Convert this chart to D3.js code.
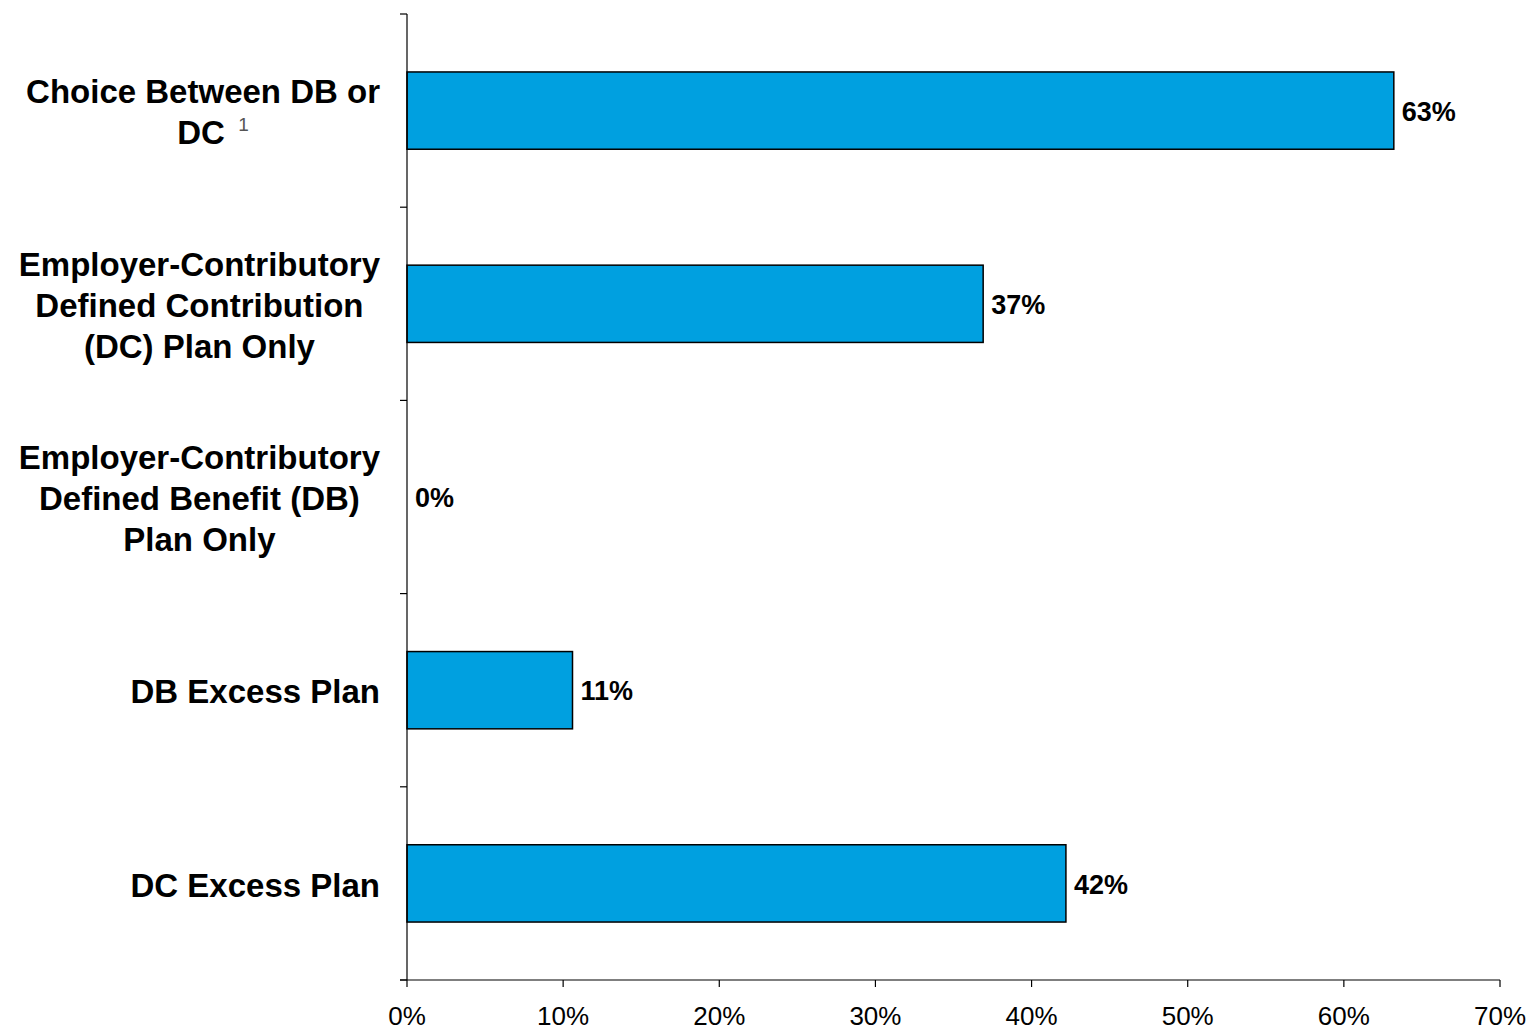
<!DOCTYPE html>
<html><head><meta charset="utf-8">
<script src="https://cdn.jsdelivr.net/npm/d3@7"></script>
<style>body{margin:0;background:#fff;}svg{display:block;}</style>
</head><body>
<svg id="c" width="1531" height="1032"></svg>
<script>
const categories = [
  ["Choice Between DB or", "DC"],
  ["Employer-Contributory", "Defined Contribution", "(DC) Plan Only"],
  ["Employer-Contributory", "Defined Benefit (DB)", "Plan Only"],
  ["DB Excess Plan"],
  ["DC Excess Plan"]
];
const footnotes = ["1", "", "", "", ""];
const values = [0.632, 0.369, 0, 0.106, 0.422];
const xTicks = [0, 0.1, 0.2, 0.3, 0.4, 0.5, 0.6, 0.7];

(function () {
const svg = d3.select("#c");
const pL = 407, pR = 1500, pT = 14, pB = 980;
const font = "'Liberation Sans', Arial, sans-serif";

const x = d3.scaleLinear().domain([0, 0.7]).range([pL, pR]);
const y = d3.scaleBand().domain(d3.range(categories.length)).range([pT, pB])
  .paddingInner(0.6).paddingOuter(0.3);
const step = y.step();

// bars
svg.selectAll("rect.bar").data(values).join("rect")
  .attr("x", x(0)).attr("y", (d, i) => y(i))
  .attr("width", d => x(d) - x(0)).attr("height", y.bandwidth())
  .attr("fill", d => d > 0 ? "#00A0E0" : "none")
  .attr("stroke", d => d > 0 ? "#000" : "none").attr("stroke-width", 1.5);

// value labels
const fmt = d3.format(".0%");
svg.selectAll("text.val").data(values).join("text")
  .attr("x", d => x(d) + 8).attr("y", (d, i) => y(i) + y.bandwidth() / 2)
  .attr("dy", "0.38em")
  .attr("font-family", font).attr("font-weight", "bold").attr("font-size", 27)
  .attr("fill", "#000").text(d => fmt(d));

// axes lines
svg.append("line").attr("x1", pL).attr("x2", pL).attr("y1", pT).attr("y2", pB)
  .attr("stroke", "#000").attr("stroke-width", 1.2);
svg.append("line").attr("x1", pL - 7).attr("x2", pR).attr("y1", pB).attr("y2", pB)
  .attr("stroke", "#000").attr("stroke-width", 1.2);
// y ticks at band boundaries
for (let i = 0; i <= categories.length; i++) {
  const yy = pT + i * step;
  svg.append("line").attr("x1", pL - 7).attr("x2", pL).attr("y1", yy).attr("y2", yy)
    .attr("stroke", "#000").attr("stroke-width", 1.2);
}
// x ticks
svg.selectAll("line.xt").data(xTicks).join("line")
  .attr("x1", d => x(d)).attr("x2", d => x(d)).attr("y1", pB).attr("y2", pB + 7)
  .attr("stroke", "#000").attr("stroke-width", 1.2);
svg.selectAll("text.xl").data(xTicks).join("text")
  .attr("x", d => x(d)).attr("y", 1025)
  .attr("text-anchor", "middle")
  .attr("font-family", font).attr("font-size", 26).attr("fill", "#000")
  .text(d => fmt(d));

// category labels
const lineH = 41;
categories.forEach((lines, i) => {
  const cy = y(i) + y.bandwidth() / 2;
  const g = svg.append("g");
  const texts = lines.map((ln, j) => {
    const t = g.append("text")
      .attr("font-family", font).attr("font-weight", "bold").attr("font-size", 33)
      .attr("fill", "#000").attr("text-anchor", "middle")
      .attr("y", cy + (j - (lines.length - 1) / 2) * lineH).attr("dy", "0.4em");
    t.append("tspan").text(ln);
    if (j === lines.length - 1 && footnotes[i]) {
      t.append("tspan").text("\u00a0\u00a0").attr("font-weight", "normal").attr("font-size", 24);
      t.append("tspan").text(footnotes[i]).attr("font-weight", "normal")
        .attr("font-size", 19).attr("fill", "#555").attr("dy", "-0.7em");
    }
    return t;
  });
  const widths = texts.map(t => t.node().getComputedTextLength());
  const maxW = d3.max(widths);
  const cx = 380 - maxW / 2;
  texts.forEach((t, j) => t.attr("x", cx + (footnotes[i] && j === lines.length - 1 ? 10 : 0)));
});
})();
</script>
</body></html>
